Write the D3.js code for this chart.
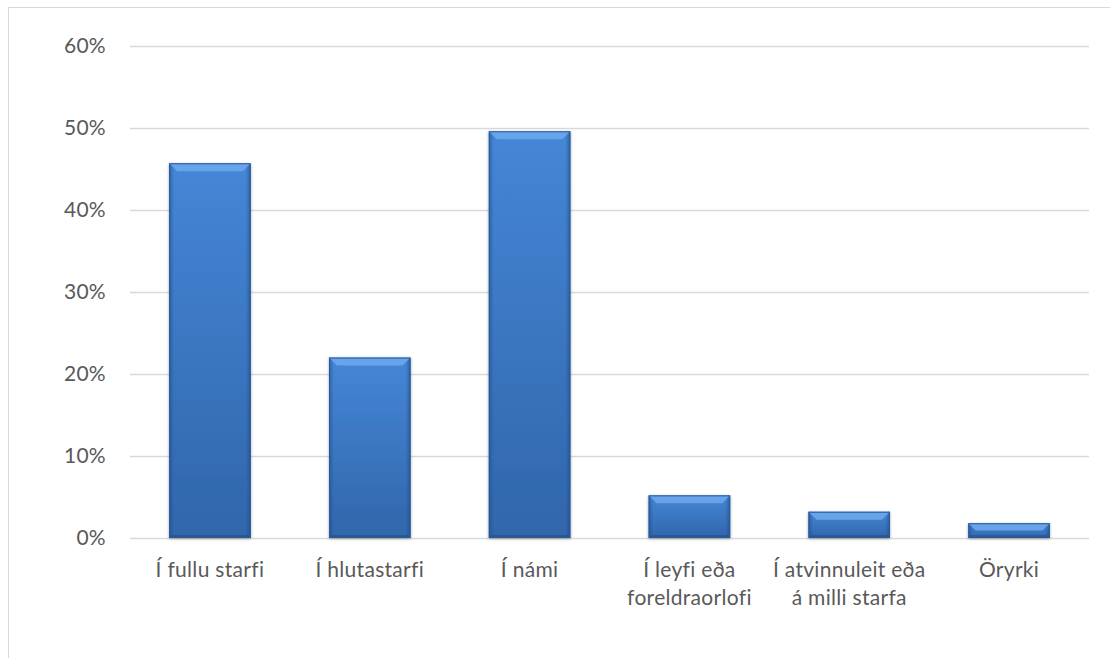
<!DOCTYPE html>
<html>
<head>
<meta charset="utf-8">
<script src="https://cdn.jsdelivr.net/npm/d3@7"></script>
<style>
	body { margin: 0; background: #fff; }
	.c-svg { width: 1110px; height: 658px; }
	text { font-family: Lato, "Open Sans", sans-serif; fill: #595959; font-variant-ligatures: none; letter-spacing: 0.3px; }
</style>
</head>
<body>
<div class="c-svg"></div>
<script>
//DATA
//-------------------------------------------------------------------------

const categories = [
	["Í fullu starfi"],
	["Í hlutastarfi"],
	["Í námi"],
	["Í leyfi eða", "foreldraorlofi"],
	["Í atvinnuleit eða", "á milli starfa"],
	["Öryrki"]
];
const values = [45.7, 22.0, 49.6, 5.2, 3.2, 1.8];
const yTicks = [0, 10, 20, 30, 40, 50, 60];


//INITIALISATION
//-------------------------------------------------------------------------

const opts = {
	width: 1110,
	height: 658,
	margin: { top: 46, right: 21, bottom: 120, left: 130 }
};

const innerChart = {
	width: opts.width - opts.margin.left - opts.margin.right,
	height: 538 - opts.margin.top
};

const svg = d3.select(".c-svg")
	.append("svg")
	.attr("width", opts.width)
	.attr("height", opts.height);

//chart border (right and bottom fall outside the picture)
svg.append("rect")
	.attr("x", 8.5)
	.attr("y", 7.5)
	.attr("width", opts.width + 20)
	.attr("height", opts.height + 20)
	.attr("fill", "none")
	.attr("stroke", "#d9d9d9")
	.attr("stroke-width", 1);

const defs = svg.append("defs");

const grad = defs.append("linearGradient")
	.attr("id", "barGrad")
	.attr("x1", 0).attr("y1", 0).attr("x2", 0).attr("y2", 1);
grad.append("stop").attr("offset", "0%").attr("stop-color", "#4586d6");
grad.append("stop").attr("offset", "100%").attr("stop-color", "#3066ab");

const sideGrad = defs.append("linearGradient")
	.attr("id", "sideGrad")
	.attr("x1", 0).attr("y1", 0).attr("x2", 1).attr("y2", 0);
sideGrad.append("stop").attr("offset", "0%").attr("stop-color", "#1f4a85").attr("stop-opacity", 0.55);
sideGrad.append("stop").attr("offset", "6%").attr("stop-color", "#1f4a85").attr("stop-opacity", 0);
sideGrad.append("stop").attr("offset", "94%").attr("stop-color", "#1f4a85").attr("stop-opacity", 0);
sideGrad.append("stop").attr("offset", "100%").attr("stop-color", "#1f4a85").attr("stop-opacity", 0.6);

const shadow = defs.append("filter")
	.attr("id", "shadow")
	.attr("x", "-20%").attr("y", "-20%").attr("width", "140%").attr("height", "140%");
shadow.append("feGaussianBlur").attr("in", "SourceAlpha").attr("stdDeviation", 1.5);
shadow.append("feOffset").attr("dx", 0).attr("dy", 1).attr("result", "blur");
shadow.append("feComponentTransfer").append("feFuncA").attr("type", "linear").attr("slope", 0.35);
const merge = shadow.append("feMerge");
merge.append("feMergeNode");
merge.append("feMergeNode").attr("in", "SourceGraphic");

const g = svg.append("g")
	.attr("transform", `translate(${opts.margin.left} ${opts.margin.top})`);


//SCALES
//-------------------------------------------------------------------------

const x = d3.scaleBand()
	.domain(d3.range(categories.length))
	.range([0, innerChart.width])
	.paddingInner(0.49)
	.paddingOuter(0.245);

const y = d3.scaleLinear()
	.domain([0, 60])
	.range([innerChart.height, 0]);


//GRID + AXIS
//-------------------------------------------------------------------------

g.append("g")
	.selectAll("line")
	.data(yTicks)
	.join("line")
	.attr("x1", 0)
	.attr("x2", innerChart.width)
	.attr("y1", (d)=>{ return Math.round(y(d)) + 0.5; })
	.attr("y2", (d)=>{ return Math.round(y(d)) + 0.5; })
	.attr("stroke", "#d9d9d9")
	.attr("stroke-width", 1.3);

g.append("g")
	.selectAll("text")
	.data(yTicks)
	.join("text")
	.attr("x", -24)
	.attr("y", (d)=>{ return y(d); })
	.attr("dy", "0.35em")
	.attr("text-anchor", "end")
	.attr("font-size", 21)
	.text((d)=>{ return d + "%"; });


//BARS
//-------------------------------------------------------------------------

const bars = g.append("g")
	.selectAll("g")
	.data(values)
	.join("g")
	.attr("filter", "url(#shadow)");

bars.append("rect")
	.attr("x", (d, i)=>{ return x(i); })
	.attr("y", (d)=>{ return y(d); })
	.attr("width", x.bandwidth())
	.attr("height", (d)=>{ return y(0) - y(d); })
	.attr("fill", "url(#barGrad)");

bars.append("rect")
	.attr("x", (d, i)=>{ return x(i); })
	.attr("y", (d)=>{ return y(d); })
	.attr("width", x.bandwidth())
	.attr("height", (d)=>{ return y(0) - y(d); })
	.attr("fill", "url(#sideGrad)");

//top bevel
bars.append("path")
	.attr("fill", "#6ea9ee")
	.attr("opacity", 0.85)
	.attr("d", (d, i)=>{
		const x0 = x(i), x1 = x(i) + x.bandwidth(), t = y(d);
		const b = Math.min(8, (y(0) - y(d)) / 2);
		return `M${x0},${t}L${x1},${t}L${x1 - b},${t + b}L${x0 + b},${t + b}Z`;
	});

//bottom bevel
bars.append("path")
	.attr("fill", "#234f8c")
	.attr("opacity", 0.6)
	.attr("d", (d, i)=>{
		const x0 = x(i), x1 = x(i) + x.bandwidth(), bt = y(0);
		const b = Math.min(3, (y(0) - y(d)) / 4);
		return `M${x0},${bt}L${x1},${bt}L${x1 - b},${bt - b}L${x0 + b},${bt - b}Z`;
	});

bars.append("rect")
	.attr("x", (d, i)=>{ return x(i) + 0.5; })
	.attr("y", (d)=>{ return y(d) + 0.5; })
	.attr("width", x.bandwidth() - 1)
	.attr("height", (d)=>{ return y(0) - y(d) - 1; })
	.attr("fill", "none")
	.attr("stroke", "#2a5a9c")
	.attr("stroke-width", 1);


//CATEGORY LABELS
//-------------------------------------------------------------------------

const labels = g.append("g")
	.selectAll("text")
	.data(categories)
	.join("text")
	.attr("text-anchor", "middle")
	.attr("font-size", 21)
	.attr("x", (d, i)=>{ return x(i) + x.bandwidth() / 2; })
	.attr("y", innerChart.height + 39);

labels.selectAll("tspan")
	.data((d)=>{ return d; })
	.join("tspan")
	.attr("x", function(){ return d3.select(this.parentNode).attr("x"); })
	.attr("dy", (d, i)=>{ return i === 0 ? 0 : 28; })
	.text((d)=>{ return d; });

</script>
</body>
</html>
